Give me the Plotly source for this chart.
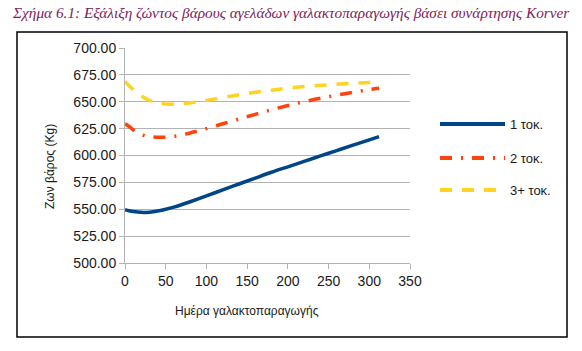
import plotly.graph_objects as go

# ---- data ----
days = [0, 5, 10, 20, 30, 40, 50, 60, 70, 80, 90, 100, 120, 140, 160, 180, 200, 220, 240, 260, 280, 300, 312]
w1 = [549.6, 548.6, 547.9, 547.1, 547.3, 548.3, 550.0, 552.0, 554.4, 557.0, 559.7, 562.4, 568.0, 573.5, 579.0, 584.4, 589.5, 594.6, 599.6, 604.6, 609.6, 614.5, 617.5]
w2 = [629.5, 627.0, 624.0, 619.5, 617.5, 617.0, 617.0, 617.8, 619.2, 621.0, 623.0, 625.0, 629.5, 634.0, 638.3, 642.5, 646.5, 650.0, 653.3, 656.2, 658.8, 661.3, 662.5]
w3 = [669.0, 665.0, 661.5, 655.5, 651.3, 649.0, 648.0, 647.8, 648.2, 649.0, 650.0, 651.3, 653.8, 656.5, 658.8, 660.8, 662.6, 664.1, 665.3, 666.3, 667.2, 668.0, 668.4]
series_names = ["1 τοκ.", "2 τοκ.", "3+ τοκ."]
y_ticks = [500, 525, 550, 575, 600, 625, 650, 675, 700]
x_ticks = [0, 50, 100, 150, 200, 250, 300, 350]

colors = ["#004586", "#ff420e", "#ffd320"]
dashes = ["solid", "12px,9px,2px,9px", "12px,10px"]
widths = [3.5, 3.5, 3.5]

W, H = 582, 351
L, R, T, B = 125, 410, 48, 263

def px(x):
    return (x - L) / (R - L)

def py(y):
    return (B - y) / (B - T)

fig = go.Figure()
for name, ys, c, d, w in zip(series_names, [w1, w2, w3], colors, dashes, widths):
    fig.add_trace(go.Scatter(x=days, y=ys, name=name, mode="lines",
                             line=dict(color=c, width=w, dash=d, shape="spline"),
                             showlegend=False))

font_main = "Liberation Sans, Arial, sans-serif"
fig.update_layout(
    width=W, height=H,
    margin=dict(l=L, r=W - R, t=T, b=H - B),
    paper_bgcolor="white", plot_bgcolor="white",
    font=dict(family=font_main, size=14, color="#1a1a1a"),
    xaxis=dict(range=[0, 350], tickvals=x_ticks, showgrid=False, zeroline=False,
               showline=True, linecolor="#b3b3b3", linewidth=1,
               ticks="outside", ticklen=5, tickcolor="#b3b3b3",
               tickfont=dict(size=14, family=font_main, color="#1a1a1a")),
    yaxis=dict(range=[500, 700], tickvals=y_ticks, tickformat=".2f",
               showgrid=True, gridcolor="#b3b3b3", gridwidth=1, zeroline=False,
               showline=True, linecolor="#b3b3b3", linewidth=1,
               ticks="outside", ticklen=5, tickcolor="#b3b3b3",
               tickfont=dict(size=14, family=font_main, color="#1a1a1a")),
)

shapes = []
# outer frame
shapes.append(dict(type="rect", xref="paper", yref="paper",
                   x0=px(17), x1=px(567), y0=py(337), y1=py(32),
                   line=dict(color="black", width=1.5), fillcolor="rgba(0,0,0,0)", layer="above"))
annotations = []
# manual legend
leg_y = [124, 158, 190]
for name, c, d, yy in zip(series_names, colors, dashes, leg_y):
    shapes.append(dict(type="line", xref="paper", yref="paper",
                       x0=px(440), x1=px(505), y0=py(yy), y1=py(yy),
                       line=dict(color=c, width=4, dash=d)))
    annotations.append(dict(xref="paper", yref="paper", x=px(508), y=py(yy),
                            text=name, showarrow=False, xanchor="left", yanchor="middle",
                            font=dict(size=13, family=font_main, color="#1a1a1a")))
# title
annotations.append(dict(xref="paper", yref="paper", x=px(290), y=py(12),
                        text="<i>Σχήμα 6.1: Εξάλιξη ζώντος βάρους αγελάδων γαλακτοπαραγωγής βάσει συνάρτησης Korver</i>",
                        showarrow=False, xanchor="center", yanchor="middle",
                        font=dict(size=15.3, family="Liberation Serif, Times New Roman, serif", color="#7e2159")))
# axis titles
annotations.append(dict(xref="paper", yref="paper", x=px(50), y=py(167),
                        text="Ζων βάρος (Kg)", textangle=-90, showarrow=False,
                        xanchor="center", yanchor="middle",
                        font=dict(size=12, family=font_main, color="#1a1a1a")))
annotations.append(dict(xref="paper", yref="paper", x=px(247), y=py(311),
                        text="Ημέρα γαλακτοπαραγωγής", showarrow=False,
                        xanchor="center", yanchor="middle",
                        font=dict(size=12, family=font_main, color="#1a1a1a")))
fig.update_layout(shapes=shapes, annotations=annotations)

fig.write_html("out.html")
